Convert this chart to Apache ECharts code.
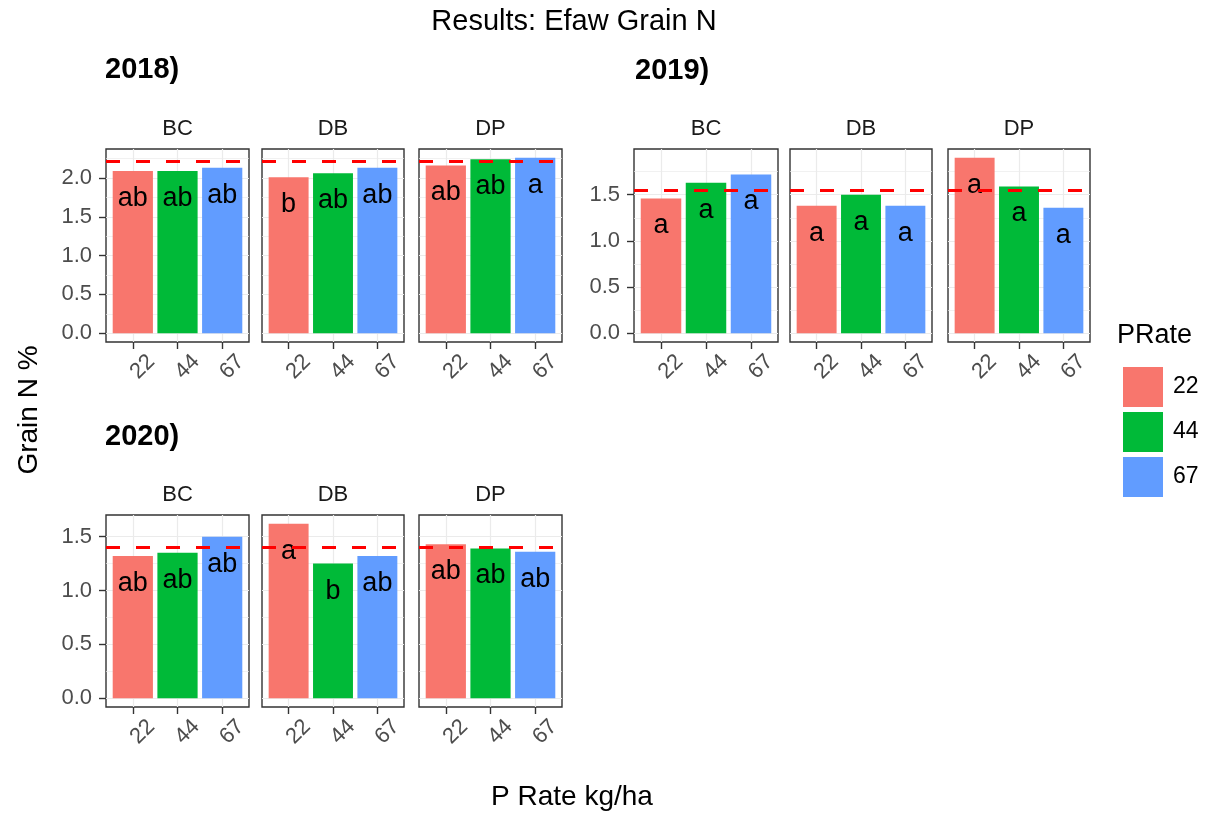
<!DOCTYPE html>
<html><head><meta charset="utf-8">
<script src="https://cdn.jsdelivr.net/npm/echarts@6/dist/echarts.min.js"></script>
<style>html,body{margin:0;padding:0;background:#fff}#c{width:1214px;height:817px}</style>
</head><body><div id="c"></div>
<script>
// ---- data ----
const years = ['2018', '2019', '2020'];
const locations = ['BC', 'DB', 'DP'];
const pRates = ['22', '44', '67'];
const rateColors = ['#F8766D', '#00BA38', '#619CFF'];

const n2018BC = [2.09, 2.09, 2.13];
const n2018DB = [2.01, 2.06, 2.13];
const n2018DP = [2.16, 2.24, 2.26];
const n2019BC = [1.46, 1.63, 1.72];
const n2019DB = [1.38, 1.50, 1.38];
const n2019DP = [1.90, 1.59, 1.36];
const n2020BC = [1.32, 1.35, 1.50];
const n2020DB = [1.62, 1.25, 1.32];
const n2020DP = [1.43, 1.39, 1.36];

const l2018BC = ['ab', 'ab', 'ab'];
const l2018DB = ['b', 'ab', 'ab'];
const l2018DP = ['ab', 'ab', 'a'];
const l2019BC = ['a', 'a', 'a'];
const l2019DB = ['a', 'a', 'a'];
const l2019DP = ['a', 'a', 'a'];
const l2020BC = ['ab', 'ab', 'ab'];
const l2020DB = ['a', 'b', 'ab'];
const l2020DP = ['ab', 'ab', 'ab'];

const yearMean = [2.22, 1.55, 1.40];

const yTicks2018 = [0, 0.5, 1.0, 1.5, 2.0];
const yTicks2019 = [0, 0.5, 1.0, 1.5];
const yTicks2020 = [0, 0.5, 1.0, 1.5];
const yMinor = [0.25, 0.75, 1.25, 1.75, 2.25];

// ---- layout ----
const values = [[n2018BC, n2018DB, n2018DP], [n2019BC, n2019DB, n2019DP], [n2020BC, n2020DB, n2020DP]];
const letters = [[l2018BC, l2018DB, l2018DP], [l2019BC, l2019DB, l2019DP], [l2020BC, l2020DB, l2020DP]];
const yTicks = [yTicks2018, yTicks2019, yTicks2020];

const panelRects = [
  [[106, 149, 143, 193], [262, 149, 142, 193], [419, 149, 143, 193]],
  [[634, 149, 144, 193], [790, 149, 142, 193], [948, 149, 142, 193]],
  [[106, 515, 143, 192], [262, 515, 142, 192], [419, 515, 143, 192]]
];
const tagPos = [[105, 70], [635, 71], [105, 437]];

const FONT = "'Liberation Sans', Arial, sans-serif";
const grids = [], xAxes = [], yAxes = [], series = [], graphics = [];

years.forEach((yr, yi) => {
  const all = values[yi].flat().concat([yearMean[yi]]);
  const M = Math.max(...all);
  const ymin = -0.05 * M, ymax = 1.05 * M;
  graphics.push({type: 'text', x: tagPos[yi][0], y: tagPos[yi][1],
    style: {text: yr + ')', font: 'bold 29px ' + FONT, fill: '#000', align: 'left', verticalAlign: 'middle'}});
  locations.forEach((loc, li) => {
    const g = grids.length;
    const [L, T, W, H] = panelRects[yi][li];
    grids.push({left: L, top: T, width: W, height: H, show: true, borderColor: '#333333', borderWidth: 1.4, backgroundColor: '#fff', containLabel: false});
    graphics.push({type: 'text', x: L + W / 2, y: T - 20,
      style: {text: loc, font: '22px ' + FONT, fill: '#1A1A1A', align: 'center', verticalAlign: 'middle'}});
    xAxes.push({type: 'value', gridIndex: g, min: 0.4, max: 3.6,
      axisLine: {show: false, onZero: false},
      axisTick: {show: true, customValues: [1, 2, 3], length: 7, lineStyle: {color: '#333333', width: 1.4}},
      axisLabel: {show: true, customValues: [1, 2, 3], formatter: v => pRates[Math.round(v) - 1], rotate: 45,
        align: 'center', verticalAlign: 'top', lineHeight: 28, margin: 15, fontSize: 22, color: '#4D4D4D', fontFamily: FONT},
      splitLine: {show: false}});
    const leftmost = li === 0;
    yAxes.push({type: 'value', gridIndex: g, min: ymin, max: ymax,
      axisLine: {show: false, onZero: false},
      axisTick: {show: leftmost, customValues: yTicks[yi], length: 7, lineStyle: {color: '#333333', width: 1.4}},
      axisLabel: {show: leftmost, customValues: yTicks[yi], formatter: v => v.toFixed(1), margin: 14, fontSize: 22, color: '#4D4D4D', fontFamily: FONT},
      splitLine: {show: false}});
    // grid lines
    const gl = [];
    yTicks[yi].forEach(v => gl.push({yAxis: v}));
    yMinor.filter(v => v < ymax).forEach(v => gl.push({yAxis: v, lineStyle: {width: 0.7}}));
    [1, 2, 3].forEach(v => gl.push({xAxis: v}));
    series.push({type: 'line', xAxisIndex: g, yAxisIndex: g, data: [], silent: true,
      markLine: {silent: true, symbol: ['none', 'none'], z: 1, animation: false, label: {show: false},
        lineStyle: {color: '#EBEBEB', width: 1.2, type: 'solid'}, data: gl}});
    const bw = 0.9 * W / 3.2;
    pRates.forEach((r, ri) => {
      series.push({type: 'bar', name: r, xAxisIndex: g, yAxisIndex: g, barWidth: bw, barGap: '-100%',
        data: [[ri + 1, values[yi][li][ri]]],
        itemStyle: {color: rateColors[ri]},
        label: {show: true, position: 'insideTop', distance: 14, formatter: () => letters[yi][li][ri],
          fontSize: 27, color: '#000', fontFamily: FONT}});
    });
    series.push({type: 'line', xAxisIndex: g, yAxisIndex: g, data: [], silent: true,
      markLine: {silent: true, symbol: ['none', 'none'], z: 5, animation: false, label: {show: false},
        lineStyle: {color: '#FF0000', width: 3, type: [14, 16]}, data: [{yAxis: yearMean[yi]}]}});
  });
});

graphics.push({type: 'text', x: 574, y: 22, style: {text: 'Results: Efaw Grain N', font: '29px ' + FONT, fill: '#000', align: 'center', verticalAlign: 'middle'}});
graphics.push({type: 'text', x: 572, y: 797, style: {text: 'P Rate kg/ha', font: '28px ' + FONT, fill: '#000', align: 'center', verticalAlign: 'middle'}});
graphics.push({type: 'text', x: 29, y: 410, rotation: Math.PI / 2, style: {text: 'Grain N %', font: '28px ' + FONT, fill: '#000', align: 'center', verticalAlign: 'middle'}});
graphics.push({type: 'text', x: 1117, y: 336, style: {text: 'PRate', font: '27px ' + FONT, fill: '#000', align: 'left', verticalAlign: 'middle'}});

const chart = echarts.init(document.getElementById('c'));
chart.setOption({
  animation: false,
  backgroundColor: '#fff',
  textStyle: {fontFamily: FONT},
  grid: grids, xAxis: xAxes, yAxis: yAxes, series: series,
  legend: {data: pRates, orient: 'vertical', left: 1118, top: 362, itemWidth: 40, itemHeight: 40, itemGap: 5,
    icon: 'rect', selectedMode: false, textStyle: {fontSize: 23, color: '#000', fontFamily: FONT, padding: [0, 0, 0, 5]}},
  graphic: graphics
});
</script></body></html>
